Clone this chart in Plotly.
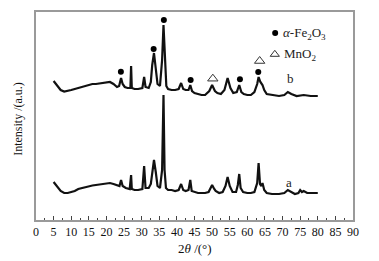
import plotly.graph_objects as go

# Curve a (lower pattern): 2theta and intensity (a.u.)
two_theta_a = [5.0, 5.5, 6.0, 6.5, 7.0, 8.0, 9.0, 10.0, 11.0, 12.0, 13.0, 14.0, 15.0, 16.0, 17.0, 18.0,
               19.0, 20.0, 21.0, 22.0, 23.0, 23.7, 24.15, 24.6, 25.5, 26.6, 27.0, 27.2, 28.0, 29.0,
               30.2, 30.7, 31.1, 32.0, 32.6, 33.0, 33.5, 34.0, 34.5, 35.2, 35.8, 36.2, 36.5, 36.9,
               37.5, 38.5, 39.5, 40.5, 41.2, 41.8, 42.5, 43.3, 43.8, 44.2, 45.0, 46.0, 47.0, 48.0,
               49.0, 50.0, 50.6, 51.0, 52.0, 53.0, 53.8, 54.4, 55.0, 55.8, 56.8, 57.3, 57.7, 58.1,
               58.8, 60.0, 61.0, 62.0, 62.8, 63.2, 63.6, 64.0, 64.3, 64.8, 65.5, 67.0, 69.0, 70.5,
               71.5, 72.5, 73.5, 74.5, 75.0, 75.5, 76.0, 77.0, 78.0, 80.0]
pix_a = [182, 184, 186, 189, 191, 193, 193, 192, 191, 189, 188, 187, 186, 185.5, 185, 184.5,
         184, 184, 183, 184, 185, 186, 180, 186, 188, 189, 175, 189, 190, 190,
         189, 166, 188, 188, 184, 172, 160, 172, 186, 188, 170, 95, 170, 188,
         190, 190, 191, 190, 184, 190, 191, 190, 180, 191, 192, 193, 193, 193,
         192, 185, 189, 191, 193, 192, 186, 177, 186, 192, 192, 185, 174, 188,
         192, 193, 193, 192, 183, 163, 184, 186, 183, 190, 193, 194, 194, 193,
         190, 192, 194, 193, 190, 192, 191, 193, 193, 193]
intensity_a = [220 - p for p in pix_a]

# Curve b (upper pattern)
two_theta_b = [5.0, 5.5, 6.0, 6.5, 7.0, 8.0, 9.0, 10.0, 11.0, 12.0, 13.0, 14.0, 15.0, 16.0, 17.0, 18.0,
               19.0, 20.0, 21.0, 22.0, 23.0, 23.6, 24.15, 24.6, 25.2, 26.0, 26.8, 27.0, 27.2, 28.0,
               29.0, 30.2, 30.7, 31.1, 32.0, 32.6, 33.0, 33.5, 34.0, 34.5, 35.2, 35.8, 36.2, 36.6,
               37.0, 37.5, 38.5, 39.5, 40.5, 41.2, 41.8, 42.5, 43.3, 43.8, 44.3, 45.0, 46.0, 47.0,
               48.0, 49.2, 50.0, 50.8, 51.5, 52.5, 53.5, 54.4, 55.2, 56.0, 57.0, 57.7, 58.3, 59.0,
               60.0, 61.0, 62.0, 62.8, 63.2, 63.7, 64.3, 64.8, 65.5, 67.0, 69.0, 70.5, 71.5, 72.5,
               74.0, 76.0, 78.0, 80.0]
pix_b = [81, 83, 86, 88, 90, 91.5, 91, 90, 89, 88, 87, 86, 85, 84, 84, 83.5,
         83, 82.5, 82, 84, 87, 86, 78, 84, 87, 88, 88, 66, 88, 89,
         89, 88, 77, 87, 88, 82, 65, 53, 66, 84, 86, 60, 25, 65,
         86, 89, 90, 90, 89, 83, 89, 90, 90, 85, 91, 93, 94, 95,
         95, 91, 85, 91, 93, 94, 90, 78, 88, 93, 92, 85, 92, 94,
         95, 95, 92, 84, 77, 82, 85, 90, 94, 95, 96, 95, 92, 94,
         96, 95, 96, 96]
intensity_b = [220 - p for p in pix_b]

# Phase markers
fe2o3_x = [24.1, 33.4, 36.3, 43.9, 57.9, 63.1]
fe2o3_y = [148.3, 171, 200, 140, 140.7, 148]
mno2_x = [50.2, 63.5]
mno2_y = [141.3, 159]

x_ticks = list(range(0, 95, 5))
serif = "Liberation Serif"

fig = go.Figure()
for xs, ys in [(two_theta_a, intensity_a), (two_theta_b, intensity_b)]:
    fig.add_trace(go.Scatter(x=xs, y=ys, mode="lines",
                             line=dict(color="#111111", width=2.2), showlegend=False))
fig.add_trace(go.Scatter(x=fe2o3_x, y=fe2o3_y, mode="markers",
                         marker=dict(symbol="circle", size=6, color="black"), showlegend=False))
fig.add_trace(go.Scatter(x=mno2_x, y=mno2_y, mode="markers",
                         marker=dict(symbol="triangle-up-open", size=9, color="#333333",
                                     line=dict(width=1)), showlegend=False))
# legend symbols
fig.add_trace(go.Scatter(x=[67.9], y=[187], mode="markers",
                         marker=dict(symbol="circle", size=6, color="black"), showlegend=False))
fig.add_trace(go.Scatter(x=[67.8], y=[165.7], mode="markers",
                         marker=dict(symbol="triangle-up-open", size=8, color="#333333",
                                     line=dict(width=1)), showlegend=False))

ann = [
    dict(x=69.6, y=187, text="<i>α</i>-Fe<sub>2</sub>O<sub>3</sub>", xanchor="left"),
    dict(x=69.9, y=166, text="MnO<sub>2</sub>", xanchor="left"),
    dict(x=72.2, y=141.3, text="b", xanchor="center"),
    dict(x=71.9, y=37.3, text="a", xanchor="center"),
]
for a in ann:
    fig.add_annotation(x=a["x"], y=a["y"], text=a["text"], xanchor=a["xanchor"], yanchor="middle",
                       showarrow=False, font=dict(family=serif, size=13, color="#222222"))

# axis titles placed as paper annotations
fig.add_annotation(xref="paper", yref="paper", x=0.5, y=-0.135, text="2<i>θ</i> /(°)",
                   showarrow=False, xanchor="center", yanchor="middle",
                   font=dict(family=serif, size=13, color="#111111"))
fig.add_annotation(xref="paper", yref="paper", x=-0.057, y=0.486, text="Intensity /(a.u.)",
                   showarrow=False, xanchor="center", yanchor="middle", textangle=-90,
                   font=dict(family=serif, size=12, color="#111111"))

# the page body adds an 8px offset, so the figure is sized to fit the 379x261 window
fig.update_layout(
    width=371, height=253,
    margin=dict(l=28, r=26, t=4, b=41, autoexpand=False),
    paper_bgcolor="white", plot_bgcolor="white",
    font=dict(family=serif, color="#111111"),
    xaxis=dict(range=[0, 90], tickvals=x_ticks, ticktext=[str(v) for v in x_ticks],
               ticks="inside", ticklen=4, tickwidth=1, tickcolor="#444444",
               minor=dict(dtick=2.5, ticks="inside", ticklen=2, tickcolor="#444444"),
               showline=True, linecolor="#9a9a9a", linewidth=1.5, mirror=True,
               showgrid=False, zeroline=False, automargin=False,
               tickfont=dict(family=serif, size=12, color="#111111")),
    yaxis=dict(range=[0, 208], showticklabels=False, ticks="",
               showline=True, linecolor="#9a9a9a", linewidth=1.5, mirror=True,
               showgrid=False, zeroline=False, automargin=False),
)

fig.write_html("out.html")
